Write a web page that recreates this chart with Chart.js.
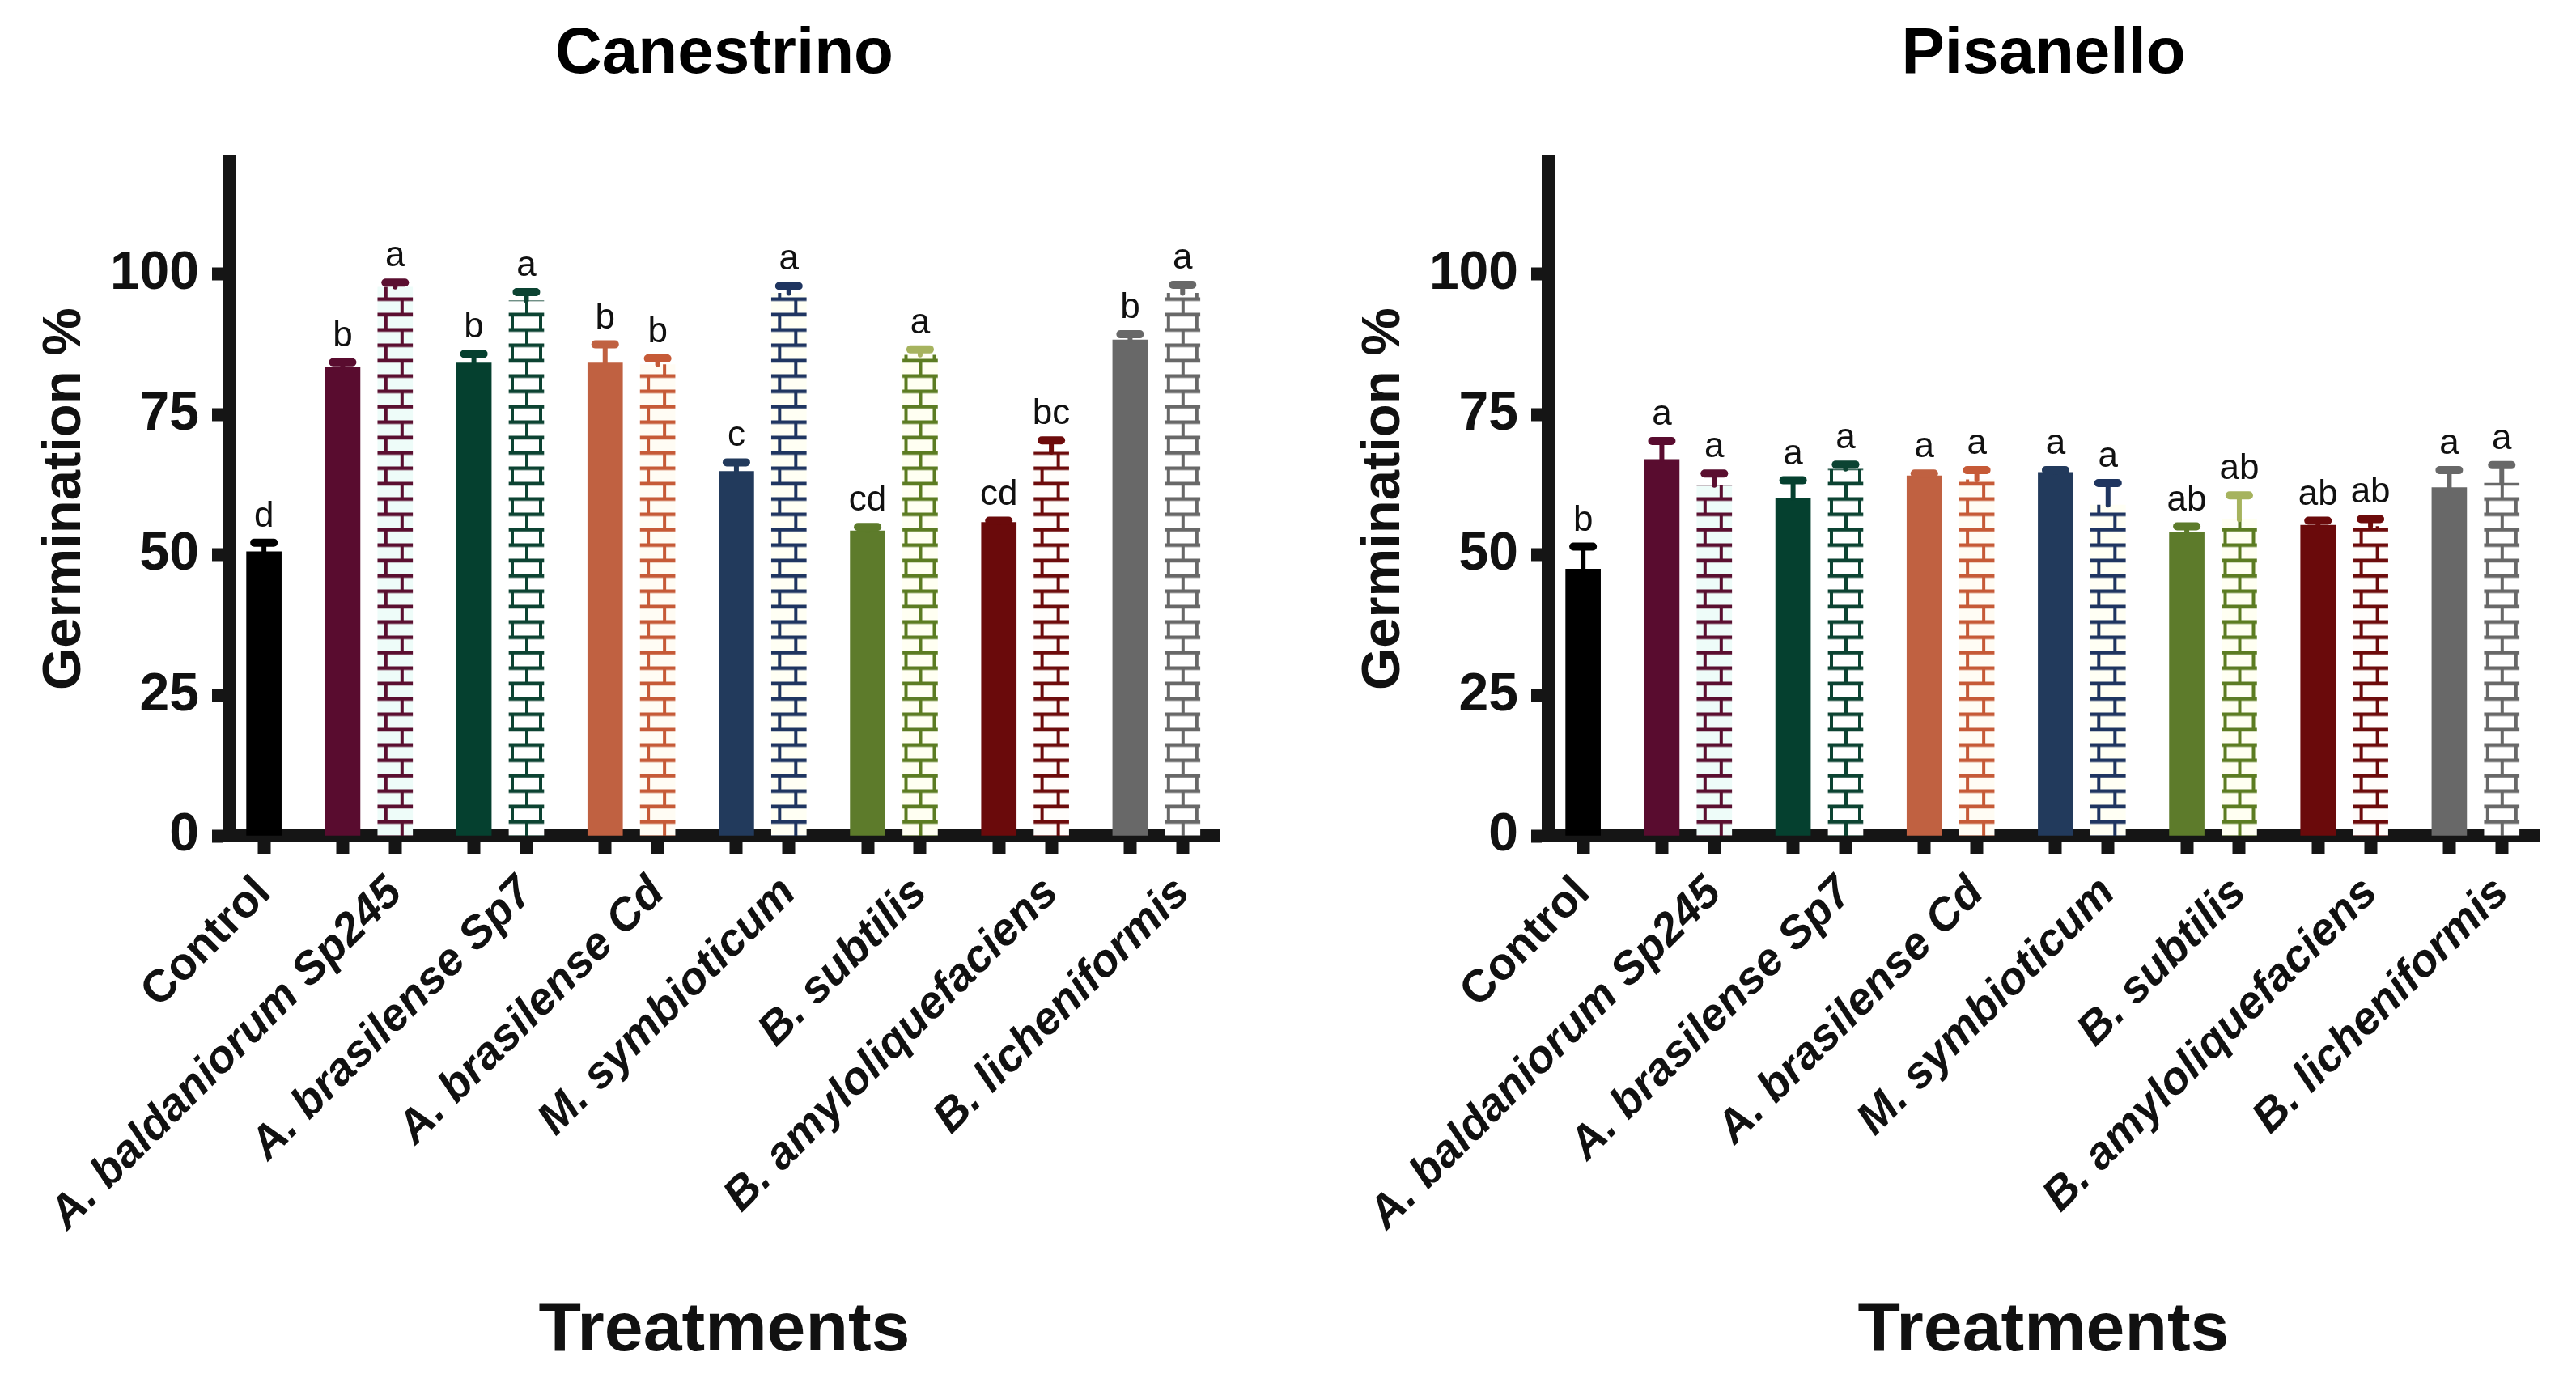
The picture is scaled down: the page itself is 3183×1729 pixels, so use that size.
<!DOCTYPE html>
<html>
<head>
<meta charset="utf-8">
<script src="https://cdn.jsdelivr.net/npm/chart.js@4.4.1/dist/chart.umd.min.js"></script>
<style>
  html, body { margin: 0; padding: 0; background: #fff; }
  body { width: 3183px; height: 1729px; position: relative; overflow: hidden; }
  .panel { position: absolute; top: 0; width: 1553px; height: 1729px; }
</style>
</head>
<body>
<div class="panel" style="left:0"><canvas id="canestrino" width="1553" height="1729"></canvas></div>
<div class="panel" style="left:1630px"><canvas id="pisanello" width="1553" height="1729"></canvas></div>
<script>
const treatments = ['Control', 'A. baldaniorum Sp245', 'A. brasilense Sp7', 'A. brasilense Cd',
    'M. symbioticum', 'B. subtilis', 'B. amyloliquefaciens', 'B. licheniformis'];
const yTicks = [0, 25, 50, 75, 100];

// Canestrino
const canSolid = [50.6, 83.5, 84.2, 84.2, 64.9, 54.3, 55.8, 88.3];
const canSolidErr = [1.6, 0.8, 1.6, 3.3, 1.6, 0.7, 0.3, 1.0];
const canSolidLetters = ['d', 'b', 'b', 'b', 'c', 'cd', 'cd', 'b'];
const canHatched = [null, 97.7, 95.3, 83.9, 96.6, 85.6, 68.3, 96.6];
const canHatchedErr = [null, 0.8, 1.5, 1.1, 1.3, 1.0, 2.1, 1.5];
const canHatchedLetters = [null, 'a', 'a', 'b', 'a', 'a', 'bc', 'a'];

// Pisanello
const pisSolid = [47.5, 67.0, 60.1, 64.1, 64.7, 54.0, 55.3, 62.0];
const pisSolidErr = [4.0, 3.3, 3.2, 0.4, 0.4, 1.1, 0.8, 3.1];
const pisSolidLetters = ['b', 'a', 'a', 'a', 'a', 'ab', 'ab', 'a'];
const pisHatched = [null, 62.4, 65.3, 63.4, 58.9, 56.3, 55.1, 62.8];
const pisHatchedErr = [null, 2.1, 0.8, 1.7, 3.9, 4.3, 1.3, 3.2];
const pisHatchedLetters = [null, 'a', 'a', 'a', 'a', 'ab', 'ab', 'a'];

const solidColors = ['#000000', '#590c2f', '#05402f', '#c06141', '#223a5c', '#5d7b2b', '#6a0a0b', '#686868'];
const hatchColors = [null, '#5a0f30', '#0c4332', '#c65a37', '#1f3560', '#5c7c22', '#6d0b0b', '#686868'];
const hatchErrColors = [null, '#5a0f30', '#0c4332', '#c65a37', '#1f3560', '#a6b35e', '#6d0b0b', '#686868'];
const hatchTints = [null, '#eefcf9', '#ffffff', '#fffcf4', '#fffff4', '#fffff2', '#fffdfb', '#ffffff'];
const hatchKinds = [null, 'ladder', 'box', 'ladder', 'ladder', 'box', 'ladder', 'box'];

const FONT = "'Liberation Sans', Arial, sans-serif";
const BAR_W = 43;

// solid bar sits 2 steps left of the hatched one, control stands alone
const solidPos = i => (i === 0 ? 0 : 5 * i - 2);
const hatchPos = i => 5 * i;
const tickPositions = treatments.flatMap((_, i) => (i === 0 ? [0] : [solidPos(i), hatchPos(i)]));

function makePattern(kind, color, tint) {
    const c = document.createElement('canvas');
    c.width = BAR_W;
    c.height = 38;
    const g = c.getContext('2d');
    g.fillStyle = tint;
    g.fillRect(0, 0, BAR_W, 38);
    g.fillStyle = color;
    g.fillRect(0, 0, BAR_W, 4.5);
    g.fillRect(0, 19, BAR_W, 4.5);
    if (kind === 'ladder') {
        g.fillRect(Math.round(BAR_W * 0.24) - 2, 0, 4, 19);
        g.fillRect(Math.round(BAR_W * 0.70) - 2, 19, 4, 19);
    } else {
        g.fillRect(2, 0, 4, 19);
        g.fillRect(BAR_W - 6, 0, 4, 19);
        g.fillRect(Math.round(BAR_W / 2) - 2, 19, 4, 19);
    }
    return g.createPattern(c, 'repeat');
}

// line the brick patterns up with each bar
const patternAlign = {
    id: 'patternAlign',
    beforeDatasetsDraw(chart) {
        chart.getSortedVisibleDatasetMetas().forEach(meta => {
            meta.data.forEach(bar => {
                const bg = bar.options.backgroundColor;
                if (bg instanceof CanvasPattern) {
                    bg.setTransform(new DOMMatrix().translate(bar.x - bar.width / 2, bar.base));
                }
            });
        });
    }
};

const errorBars = {
    id: 'errorBars',
    afterDatasetsDraw(chart) {
        const ctx = chart.ctx;
        const yScale = chart.scales.y;
        chart.data.datasets.forEach((ds, di) => {
            const meta = chart.getDatasetMeta(di);
            meta.data.forEach((bar, i) => {
                const top = yScale.getPixelForValue(ds.data[i].y + ds.errors[i]);
                ctx.save();
                ctx.strokeStyle = ds.errColors[i];
                ctx.lineCap = 'round';
                ctx.lineWidth = 6;
                ctx.beginPath();
                ctx.moveTo(bar.x, bar.y);
                ctx.lineTo(bar.x, top);
                ctx.stroke();
                ctx.lineWidth = 10;
                ctx.beginPath();
                ctx.moveTo(bar.x - 12, top);
                ctx.lineTo(bar.x + 12, top);
                ctx.stroke();
                ctx.fillStyle = '#111';
                ctx.font = "44px 'Liberation Sans Narrow', 'Liberation Sans', Arial, sans-serif";
                ctx.textAlign = 'center';
                ctx.textBaseline = 'alphabetic';
                ctx.fillText(ds.letters[i], bar.x, top - 20);
                ctx.restore();
            });
        });
    }
};

const panelTitle = {
    id: 'panelTitle',
    afterDraw(chart, args, opts) {
        const { ctx, chartArea } = chart;
        ctx.save();
        ctx.font = 'bold 80px ' + FONT;
        ctx.fillStyle = '#000';
        ctx.textAlign = 'center';
        ctx.textBaseline = 'middle';
        ctx.fillText(opts.text, (chartArea.left + chartArea.right) / 2, 68);
        ctx.restore();
    }
};

function buildChart(id, title, solid, solidErr, solidLetters, hatched, hatchedErr, hatchedLetters) {
    const hi = treatments.map((_, i) => i).filter(i => hatched[i] !== null);
    new Chart(document.getElementById(id).getContext('2d'), {
        type: 'bar',
        data: {
            datasets: [
                {
                    label: 'solid',
                    data: solid.map((v, i) => ({ x: solidPos(i), y: v })),
                    backgroundColor: solidColors,
                    errors: solidErr,
                    errColors: solidColors,
                    letters: solidLetters,
                    barThickness: BAR_W,
                    grouped: false,
                    borderWidth: 0
                },
                {
                    label: 'hatched',
                    data: hi.map(i => ({ x: hatchPos(i), y: hatched[i] })),
                    backgroundColor: hi.map(i => makePattern(hatchKinds[i], hatchColors[i], hatchTints[i])),
                    errors: hi.map(i => hatchedErr[i]),
                    errColors: hi.map(i => hatchErrColors[i]),
                    letters: hi.map(i => hatchedLetters[i]),
                    barThickness: BAR_W,
                    grouped: false,
                    borderWidth: 0
                }
            ]
        },
        options: {
            responsive: false,
            animation: false,
            layout: { padding: { top: 200, right: 46, left: 0, bottom: 0 } },
            plugins: {
                legend: { display: false },
                tooltip: { enabled: false },
                panelTitle: { text: title }
            },
            scales: {
                x: {
                    type: 'linear',
                    z: 1,
                    min: -1.33,
                    max: 36.41,
                    offset: false,
                    afterBuildTicks: s => { s.ticks = tickPositions.map(v => ({ value: v })); },
                    afterFit: s => { s.height = 696; },
                    border: { display: true, color: '#151515', width: 16 },
                    grid: { offset: false, drawOnChartArea: false, drawTicks: true, tickLength: 22, tickWidth: 16, tickColor: '#151515' },
                    ticks: {
                        autoSkip: false,
                        minRotation: 45,
                        maxRotation: 45,
                        padding: 16,
                        color: '#111',
                        font: ctx => ({
                            family: FONT, size: 56, weight: 'bold',
                            style: ctx.tick && ctx.tick.value === 0 ? 'normal' : 'italic'
                        }),
                        callback: v => (v % 5 === 0 ? treatments[v / 5] : '')
                    },
                    title: {
                        display: true,
                        text: 'Treatments',
                        color: '#111',
                        font: { family: FONT, size: 86, weight: 'bold' },
                        padding: { top: 0, bottom: 32 }
                    }
                },
                y: {
                    z: 1,
                    min: 0,
                    max: 120,
                    afterBuildTicks: s => { s.ticks = yTicks.map(v => ({ value: v })); },
                    afterFit: s => { s.width = 283; },
                    border: { color: '#151515', width: 16 },
                    grid: { drawOnChartArea: false, tickLength: 21, tickWidth: 16, tickColor: '#151515' },
                    ticks: { padding: 16, color: '#111', font: { family: FONT, size: 66, weight: 'bold' } },
                    title: {
                        display: true,
                        text: 'Germination %',
                        color: '#111',
                        font: { family: FONT, size: 67, weight: 'bold' },
                        padding: { top: 40, bottom: 0 }
                    }
                }
            }
        },
        plugins: [patternAlign, errorBars, panelTitle]
    });
}

buildChart('canestrino', 'Canestrino', canSolid, canSolidErr, canSolidLetters, canHatched, canHatchedErr, canHatchedLetters);
buildChart('pisanello', 'Pisanello', pisSolid, pisSolidErr, pisSolidLetters, pisHatched, pisHatchedErr, pisHatchedLetters);
</script>
</body>
</html>
